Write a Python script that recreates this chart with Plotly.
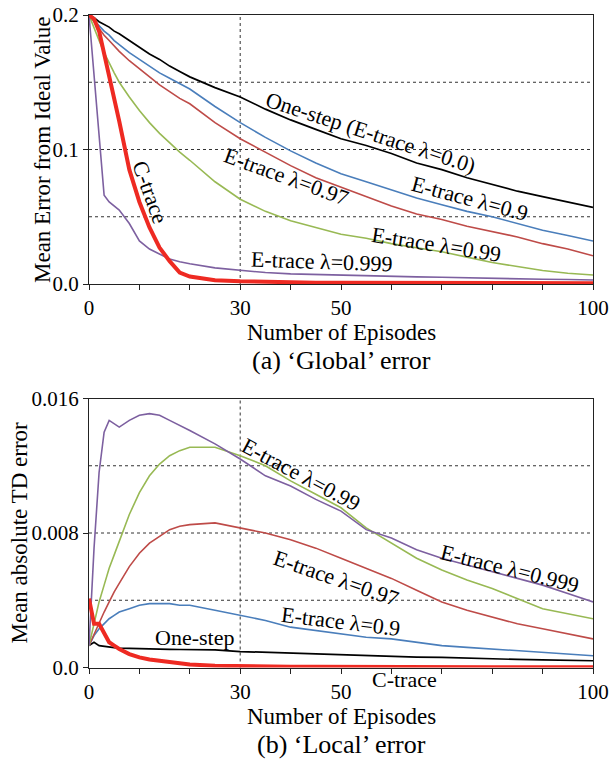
import plotly.graph_objects as go

# ---------------- data ----------------
EP = [0, 1, 2, 3, 4, 5, 6, 8, 10, 12, 14, 16, 18, 20, 25, 30, 35, 40, 45, 50,
      55, 60, 65, 70, 75, 80, 85, 90, 95, 100]

# (a) 'Global' error
G_ONE = [0.200, 0.198, 0.195, 0.193, 0.191, 0.188, 0.186, 0.181, 0.176, 0.171,
         0.167, 0.162, 0.158, 0.154, 0.146, 0.139, 0.130, 0.122, 0.115, 0.108,
         0.103, 0.097, 0.090, 0.085, 0.079, 0.074, 0.069, 0.065, 0.061, 0.057]
G_09 = [0.200, 0.196, 0.192, 0.188, 0.185, 0.181, 0.178, 0.172, 0.167, 0.162,
        0.157, 0.153, 0.149, 0.145, 0.132, 0.120, 0.109, 0.099, 0.090, 0.082,
        0.076, 0.070, 0.064, 0.059, 0.054, 0.050, 0.045, 0.040, 0.036, 0.032]
G_097 = [0.200, 0.195, 0.190, 0.185, 0.181, 0.177, 0.173, 0.166, 0.160, 0.154,
         0.148, 0.143, 0.138, 0.134, 0.120, 0.108, 0.098, 0.088, 0.079, 0.072,
         0.065, 0.058, 0.052, 0.048, 0.043, 0.039, 0.035, 0.030, 0.026, 0.021]
G_099 = [0.200, 0.190, 0.181, 0.172, 0.164, 0.157, 0.150, 0.139, 0.129, 0.120,
         0.112, 0.105, 0.098, 0.092, 0.076, 0.063, 0.054, 0.047, 0.042, 0.037,
         0.034, 0.030, 0.027, 0.024, 0.020, 0.016, 0.013, 0.010, 0.008, 0.0067]
G_0999 = [0.200, 0.157, 0.114, 0.066, 0.061, 0.058, 0.055, 0.045, 0.032, 0.026,
          0.022, 0.0185, 0.0165, 0.015, 0.012, 0.010, 0.0085, 0.0075, 0.007, 0.0063,
          0.0058, 0.0055, 0.0053, 0.005, 0.0045, 0.004, 0.0038, 0.0035, 0.0033, 0.003]
G_C = [0.200, 0.197, 0.188, 0.172, 0.156, 0.140, 0.121, 0.085, 0.061, 0.042,
       0.027, 0.017, 0.0085, 0.0055, 0.0028, 0.002, 0.0015, 0.0012, 0.001, 0.001,
       0.001, 0.0009, 0.0009, 0.0008, 0.0008, 0.0007, 0.0007, 0.0006, 0.0006, 0.0005]

# (b) 'Local' error
L_ONE = [0.0013, 0.0015, 0.0013, 0.00125, 0.0012, 0.00118, 0.00115, 0.00113, 0.0011, 0.0011,
         0.00109, 0.00108, 0.00107, 0.00107, 0.00105, 0.00095, 0.0009, 0.00088, 0.00083, 0.00078,
         0.00072, 0.00066, 0.00062, 0.0006, 0.00055, 0.0005, 0.00048, 0.00045, 0.00042, 0.0004]
L_09 = [0.0013, 0.0019, 0.0023, 0.0026, 0.0029, 0.0031, 0.0033, 0.0035, 0.0037, 0.0038,
        0.0038, 0.0038, 0.0037, 0.0037, 0.0034, 0.0031, 0.0028, 0.0024, 0.0022, 0.0020,
        0.0018, 0.0017, 0.0015, 0.0013, 0.0012, 0.0011, 0.0010, 0.0009, 0.0008, 0.0007]
L_097 = [0.0013, 0.0020, 0.0027, 0.0033, 0.0039, 0.0045, 0.0050, 0.0060, 0.0068, 0.0074,
         0.0078, 0.0082, 0.0084, 0.0085, 0.0086, 0.0083, 0.0080, 0.0076, 0.0071, 0.0065,
         0.0059, 0.0053, 0.0046, 0.0039, 0.0034, 0.0030, 0.0026, 0.0023, 0.0020, 0.0017]
L_099 = [0.0013, 0.0026, 0.0039, 0.0049, 0.0059, 0.0067, 0.0075, 0.0091, 0.0104, 0.0114,
         0.0121, 0.0126, 0.0129, 0.0131, 0.0131, 0.0126, 0.0120, 0.0111, 0.0103, 0.0095,
         0.0083, 0.0074, 0.0065, 0.0058, 0.0052, 0.0047, 0.0041, 0.0035, 0.0032, 0.0029]
L_0999 = [0.0013, 0.0071, 0.0116, 0.0140, 0.0147, 0.0145, 0.0143, 0.0147, 0.0150, 0.0151,
          0.0150, 0.0147, 0.0144, 0.0141, 0.0133, 0.0124, 0.0114, 0.0108, 0.0100, 0.0093,
          0.0082, 0.0077, 0.0070, 0.0065, 0.0061, 0.0057, 0.0053, 0.0049, 0.0044, 0.0039]
L_C = [0.0041, 0.0026, 0.0026, 0.0020, 0.0015, 0.0013, 0.0011, 0.0008, 0.0006, 0.00048,
       0.0004, 0.0003, 0.00024, 0.00018, 0.0001, 0.00006, 0.00005, 0.00004, 0.00004, 0.00003,
       0.00003, 0.00003, 0.00003, 0.00002, 0.00002, 0.00002, 0.00002, 0.00002, 0.00002, 0.00002]

X_TICKS = [0, 30, 50, 100]
G_YTICKS = [0, 0.1, 0.2]
G_YTICKTEXT = ["0.0", "0.1", "0.2"]
L_YTICKS = [0, 0.008, 0.016]
L_YTICKTEXT = ["0.0", "0.008", "0.016"]
G_GRID_Y = [0.05, 0.1, 0.15]
L_GRID_Y = [0.004, 0.008, 0.012]
GRID_X = [30]

# ---------------- style ----------------
FONT = "Liberation Serif, Times New Roman, serif"
COLORS = {"one": "#000000", "09": "#4A7EBB", "097": "#BE4B48",
          "099": "#98B954", "0999": "#7D60A0", "c": "#EE2A22"}

fig = go.Figure()

def add_series(ys, key, xa, ya, width=1.6):
    fig.add_trace(go.Scatter(x=EP, y=ys, mode="lines", xaxis=xa, yaxis=ya,
                             line=dict(color=COLORS[key], width=width),
                             showlegend=False, hoverinfo="skip"))

for ys, key in [(G_ONE, "one"), (G_09, "09"), (G_097, "097"), (G_099, "099"), (G_0999, "0999")]:
    add_series(ys, key, "x", "y", 1.7 if key == "one" else 1.6)
add_series(G_C, "c", "x", "y", 4)

for ys, key in [(L_ONE, "one"), (L_09, "09"), (L_097, "097"), (L_099, "099"), (L_0999, "0999")]:
    add_series(ys, key, "x2", "y2", 1.7 if key == "one" else 1.6)
add_series(L_C, "c", "x2", "y2", 4)

W, H = 611, 762
XD = [89 / W, 593 / W]
YD1 = [1 - 284 / H, 1 - 15 / H]
YD2 = [1 - 667.5 / H, 1 - 398.5 / H]

axis_common = dict(showline=True, mirror=True, linecolor="#222", linewidth=1.3,
                   ticks="outside", ticklen=5, tickcolor="#222", showgrid=False,
                   zeroline=False, automargin=False,
                   tickfont=dict(family=FONT, size=21, color="black"))

xcommon = dict(axis_common, range=[0, 100], tickvals=X_TICKS,
               minor=dict(dtick=10, tick0=0, ticks="outside", ticklen=5, tickcolor="#222"))

fig.update_layout(
    template="none",
    width=W, height=H, margin=dict(l=0, r=0, t=0, b=0, autoexpand=False),
    paper_bgcolor="white", plot_bgcolor="white", showlegend=False,
    font=dict(family=FONT, color="black"),
    xaxis=dict(xcommon, domain=XD, anchor="y"),
    yaxis=dict(axis_common, domain=YD1, anchor="x", range=[0, 0.2],
               tickvals=G_YTICKS, ticktext=G_YTICKTEXT),
    xaxis2=dict(xcommon, domain=XD, anchor="y2"),
    yaxis2=dict(axis_common, domain=YD2, anchor="x2", range=[0, 0.016],
                tickvals=L_YTICKS, ticktext=L_YTICKTEXT),
)

shapes = []
grid_line = dict(color="#333", width=1, dash="3px,3px")
for gy in G_GRID_Y:
    shapes.append(dict(type="line", xref="x domain", yref="y", x0=0, x1=1, y0=gy, y1=gy,
                       line=grid_line, layer="below"))
for gy in L_GRID_Y:
    shapes.append(dict(type="line", xref="x2 domain", yref="y2", x0=0, x1=1, y0=gy, y1=gy,
                       line=grid_line, layer="below"))
for gx in GRID_X:
    shapes.append(dict(type="line", xref="x", yref="y domain", x0=gx, x1=gx, y0=0, y1=1,
                       line=grid_line, layer="below"))
    shapes.append(dict(type="line", xref="x2", yref="y2 domain", x0=gx, x1=gx, y0=0, y1=1,
                       line=grid_line, layer="below"))
fig.update_layout(shapes=shapes)

ann_font = dict(family=FONT, size=22, color="black")
annotations = []

def label(text, x, y, angle, xref="x", yref="y"):
    annotations.append(dict(text=text, x=x, y=y, xref=xref, yref=yref, showarrow=False,
                            textangle=angle, font=ann_font, xanchor="center", yanchor="middle"))

W_, H_ = W, H
# top labels
label("One-step (E-trace λ=0.0)", 55.8, 0.1123, 18)
label("E-trace λ=0.9", 75.6, 0.0635, 15)
label("E-trace λ=0.97", 39.1, 0.0796, 20)
label("E-trace λ=0.99", 69.0, 0.029, 9)
label("E-trace λ=0.999", 46.2, 0.0164, 2)
label("C-trace", 12.1, 0.0677, 70)
# bottom labels
label("E-trace λ=0.99", 42.1, 0.0115, 28, "x2", "y2")
label("E-trace λ=0.999", 83.5, 0.00587, 14, "x2", "y2")
label("E-trace λ=0.97", 49.2, 0.00531, 19, "x2", "y2")
label("E-trace λ=0.9", 50.0, 0.00271, 7, "x2", "y2")
label("One-step", 21.0, 0.00181, 0, "x2", "y2")
# C-trace label sits just under the lower axis (outside its range) -> paper y
label("C-trace", 62.5, 1 - 679 / H, 0, "x2", "paper")

title_font = dict(family=FONT, size=23, color="black")
sub_font = dict(family=FONT, size=26, color="black")
xc = (89 + 593) / 2

def paper_text(text, px, py, font, angle=0):
    annotations.append(dict(text=text, x=px / W, y=1 - py / H, xref="paper", yref="paper",
                            showarrow=False, textangle=angle, font=font,
                            xanchor="center", yanchor="middle"))

paper_text("Mean Error from Ideal Value", 42, 150, title_font, -90)
paper_text("Mean absolute TD error", 18.5, 533, title_font, -90)
paper_text("Number of Episodes", xc, 332, title_font)
paper_text("(a) ‘Global’ error", xc, 360, sub_font)
paper_text("Number of Episodes", xc, 716, title_font)
paper_text("(b) ‘Local’ error", xc, 744, sub_font)

fig.update_layout(annotations=annotations)
fig.write_html("out.html")
